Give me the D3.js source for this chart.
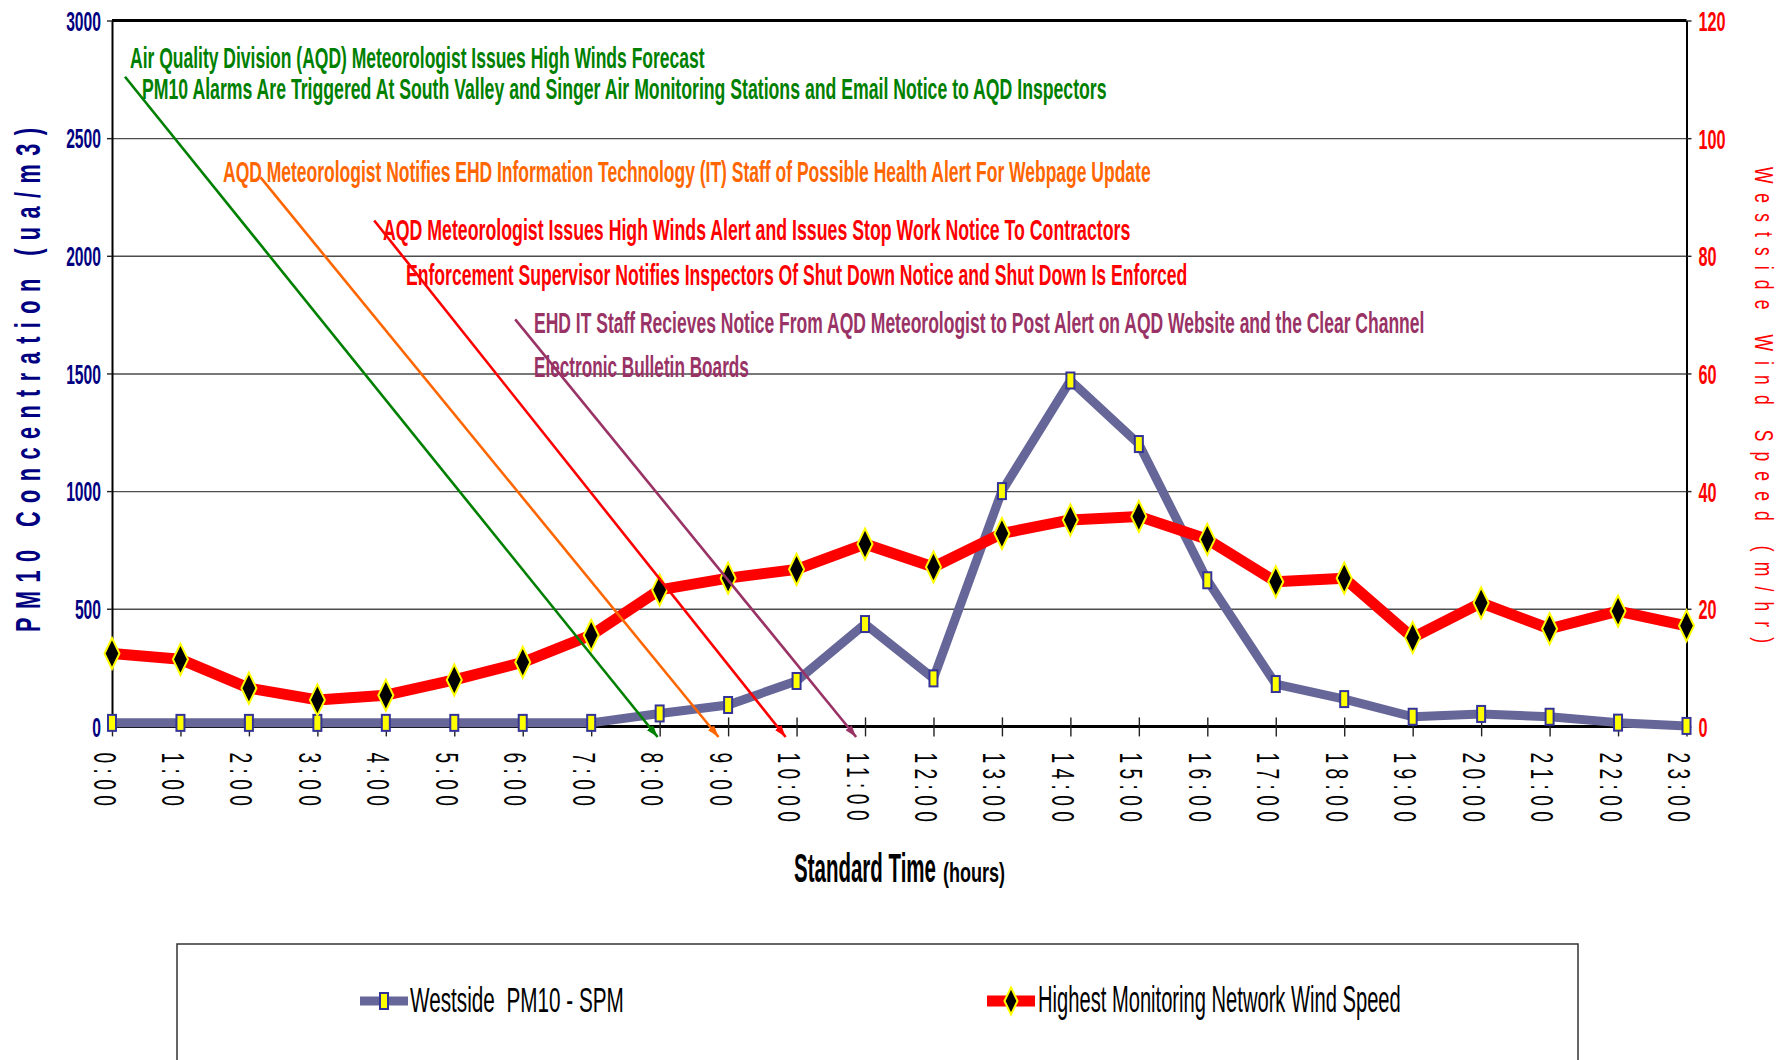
<!DOCTYPE html>
<html>
<head>
<meta charset="utf-8">
<script src="https://cdn.jsdelivr.net/npm/d3@7"></script>
<style>
  body { margin: 0; background: #fff; }
  svg { display: block; font-family: "Liberation Sans", Arial, sans-serif; }
  text { white-space: pre; }
</style>
</head>
<body>
<div id="chart"></div>
<script>
// PM10 (left axis) versus wind speed (right axis), hourly

var hourLabels = ["0:00", "1:00", "2:00", "3:00", "4:00", "5:00", "6:00", "7:00", "8:00", "9:00", "10:00", "11:00",
  "12:00", "13:00", "14:00", "15:00", "16:00", "17:00", "18:00", "19:00", "20:00", "21:00", "22:00", "23:00"];
var pm10 = [15, 15, 15, 15, 15, 15, 15, 15, 55, 91, 193, 435, 204, 1000, 1470, 1200, 621, 180, 116, 41, 53, 41, 16, 2];
var windSpeed = [12.4, 11.4, 6.5, 4.5, 5.3, 7.9, 10.9, 15.5, 23.2, 25.2, 26.7, 31.0, 27.1, 32.8, 35.1, 35.7, 31.8,
  24.6, 25.2, 15.1, 21.0, 16.6, 19.6, 17.1];
var pm10Ticks = [0, 500, 1000, 1500, 2000, 2500, 3000];
var windTicks = [0, 20, 40, 60, 80, 100, 120];
var seriesNames = ["Westside  PM10 - SPM", "Highest Monitoring Network Wind Speed"];

var noteTexts = [
  "Air Quality Division (AQD) Meteorologist Issues High Winds Forecast",
  "PM10 Alarms Are Triggered At South Valley and Singer Air Monitoring Stations and Email Notice to AQD Inspectors",
  "AQD Meteorologist Notifies EHD Information Technology (IT) Staff of Possible Health Alert For Webpage Update",
  "AQD Meteorologist Issues High Winds Alert and Issues Stop Work Notice To Contractors",
  "Enforcement Supervisor Notifies Inspectors Of Shut Down Notice and Shut Down Is Enforced",
  "EHD IT Staff Recieves Notice From AQD Meteorologist to Post Alert on AQD Website and the Clear Channel",
  "Electronic Bulletin Boards"
];
// arrows: start (hour, pm10) -> end (hour, pm10)
var arrowFrom = [[0.19, 2761], [2.17, 2333], [3.83, 2150], [5.89, 1730]];
var arrowTo = [[7.97, -45], [8.86, -45], [9.84, -45], [10.87, -45]];

// layout / styles
var svgWidth = 1788, svgHeight = 1060;
var plot = { left: 112, right: 1686.5, top: 20.5, bottom: 726.4 };
var noteColors = ["#008000", "#008000", "#FF6600", "#FF0000", "#FF0000", "#993366", "#993366"];
var noteLayout = [
  { x: 130, y: 68, w: 575 },
  { x: 142, y: 99, w: 965 },
  { x: 223, y: 182, w: 928 },
  { x: 383, y: 240, w: 748 },
  { x: 406, y: 285, w: 782 },
  { x: 534, y: 333, w: 891 },
  { x: 534, y: 377, w: 215 }
];
var arrowColors = ["#008000", "#FF6600", "#FF0000", "#993366"];

var svg = d3.select("#chart").append("svg")
  .attr("width", svgWidth)
  .attr("height", svgHeight);

// squeeze a text horizontally so it is w pixels wide, left edge at x
function squeeze(sel, xPos, yPos, w) {
  sel.attr("x", 0).attr("y", 0);
  var natural = sel.node().getComputedTextLength();
  sel.attr("transform", `translate(${xPos},${yPos}) scale(${w / natural},1)`);
  return sel;
}

var x = d3.scaleLinear().domain([0, 23]).range([plot.left, plot.right]);
var y = d3.scaleLinear().domain([0, 3000]).range([plot.bottom, plot.top]);
var yWind = d3.scaleLinear().domain([0, 120]).range([plot.bottom, plot.top]);

// gridlines
svg.append("g")
  .attr("transform", `translate(${plot.left},0)`)
  .call(d3.axisLeft(y).tickValues(pm10Ticks.slice(1, -1)).tickSize(-(plot.right - plot.left)).tickFormat(""))
  .call(g => g.select(".domain").remove())
  .call(g => g.selectAll("line").attr("stroke", "#4d4d4d").attr("stroke-width", 1.4));

// bottom axis line (under series)
svg.append("line")
  .attr("x1", plot.left).attr("x2", plot.right)
  .attr("y1", y(0)).attr("y2", y(0))
  .attr("stroke", "#000").attr("stroke-width", 3);

// x axis ticks + labels
var xAxis = svg.append("g")
  .attr("transform", `translate(0,${y(0)})`)
  .call(d3.axisBottom(x).tickValues(d3.range(24)).tickFormat(i => hourLabels[i]).tickSize(10).tickSizeOuter(0))
  .attr("font-size", null).attr("font-family", null);
xAxis.select(".domain").remove();
xAxis.selectAll(".tick line").attr("y1", -9).attr("y2", 10).attr("stroke", "#222").attr("stroke-width", 1.4);
xAxis.selectAll(".tick text")
  .attr("x", null).attr("y", null).attr("dy", null)
  .attr("text-anchor", "start")
  .attr("transform", "translate(-19,26) rotate(90) scale(0.6,1)")
  .attr("letter-spacing", 9)
  .attr("fill", "#000")
  .style("font-size", "32px");

// left axis
var yAxisL = svg.append("g")
  .attr("transform", `translate(${plot.left},0)`)
  .call(d3.axisLeft(y).tickValues(pm10Ticks).tickFormat(d3.format("d")).tickSize(5).tickSizeOuter(0))
  .attr("font-size", null).attr("font-family", null);
yAxisL.select(".domain").attr("stroke", "#000").attr("stroke-width", 2);
yAxisL.selectAll(".tick line").attr("stroke", "#222").attr("stroke-width", 1.4);
yAxisL.selectAll(".tick text")
  .attr("x", -11 / 0.58).attr("dy", "0.36em")
  .attr("transform", "scale(0.58,1)")
  .attr("fill", "#000080")
  .style("font-size", "27px").style("font-weight", "bold");

// right axis
var yAxisR = svg.append("g")
  .attr("transform", `translate(${plot.right},0)`)
  .call(d3.axisRight(yWind).tickValues(windTicks).tickFormat(d3.format("d")).tickSize(5).tickSizeOuter(0))
  .attr("font-size", null).attr("font-family", null);
yAxisR.select(".domain").attr("stroke", "#000").attr("stroke-width", 2);
yAxisR.selectAll(".tick line").attr("stroke", "#222").attr("stroke-width", 1.4);
yAxisR.selectAll(".tick text")
  .attr("x", 12 / 0.58).attr("dy", "0.36em")
  .attr("transform", "scale(0.58,1)")
  .attr("fill", "#FF0000")
  .style("font-size", "28px").style("font-weight", "bold");

// top border
svg.append("line")
  .attr("x1", plot.left).attr("x2", plot.right)
  .attr("y1", plot.top).attr("y2", plot.top)
  .attr("stroke", "#000").attr("stroke-width", 3);

// PM10 series
var pmLine = d3.line().x((d, i) => x(i)).y(d => y(d));
svg.append("path")
  .datum(pm10)
  .attr("d", pmLine)
  .attr("fill", "none")
  .attr("stroke", "#666699")
  .attr("stroke-width", 9)
  .attr("stroke-linejoin", "round");

function squareMarker(sel) {
  sel.append("rect")
    .attr("x", -4).attr("y", -8).attr("width", 8).attr("height", 16)
    .attr("fill", "#FFFF00").attr("stroke", "#333399").attr("stroke-width", 2);
}
function diamondMarker(sel, w, h) {
  sel.append("path")
    .attr("d", `M0,${-h / 2}L${w / 2},0L0,${h / 2}L${-w / 2},0Z`)
    .attr("fill", "#000").attr("stroke", "#FFFF00").attr("stroke-width", 2);
}

svg.append("g").selectAll("g")
  .data(pm10)
  .enter()
  .append("g")
  .attr("transform", (d, i) => `translate(${x(i)},${y(d)})`)
  .call(squareMarker);

// wind series
var windLine = d3.line().x((d, i) => x(i)).y(d => yWind(d));
svg.append("path")
  .datum(windSpeed)
  .attr("d", windLine)
  .attr("fill", "none")
  .attr("stroke", "#FF0000")
  .attr("stroke-width", 11)
  .attr("stroke-linejoin", "round");

svg.append("g").selectAll("g")
  .data(windSpeed)
  .enter()
  .append("g")
  .attr("transform", (d, i) => `translate(${x(i)},${yWind(d)})`)
  .each(function() { diamondMarker(d3.select(this), 15, 31); });

// axis titles
svg.append("text")
  .attr("transform", "translate(40,632) rotate(-90) scale(0.62,1)")
  .attr("textLength", 504 / 0.62)
  .attr("lengthAdjust", "spacing")
  .attr("fill", "#000080")
  .style("font-size", "35px").style("font-weight", "bold")
  .text("PM10 Concentration (ua/m3)");

svg.append("text")
  .attr("transform", "translate(1755,167) rotate(90) scale(0.7,1)")
  .attr("textLength", 476 / 0.7)
  .attr("lengthAdjust", "spacing")
  .attr("fill", "#FF0000")
  .style("font-size", "25px")
  .text("Westside Wind Speed (m/hr)");

svg.append("text")
  .style("font-size", "40px").style("font-weight", "bold")
  .text("Standard Time")
  .call(squeeze, 794, 882, 142);
svg.append("text")
  .style("font-size", "28px").style("font-weight", "bold")
  .text("(hours)")
  .call(squeeze, 943, 882, 62);

// annotations
var defs = svg.append("defs");
arrowColors.forEach(function(c, i) {
  defs.append("marker")
    .attr("id", "arrow" + i)
    .attr("viewBox", "0 0 12 8")
    .attr("refX", 12).attr("refY", 4)
    .attr("markerWidth", 12).attr("markerHeight", 8)
    .attr("markerUnits", "userSpaceOnUse")
    .attr("orient", "auto")
    .append("path")
    .attr("d", "M0,0L12,4L0,8Z")
    .attr("fill", c);
});

svg.append("g").selectAll("line")
  .data(arrowFrom)
  .enter()
  .append("line")
  .attr("x1", d => x(d[0])).attr("y1", d => y(d[1]))
  .attr("x2", (d, i) => x(arrowTo[i][0])).attr("y2", (d, i) => y(arrowTo[i][1]))
  .attr("stroke", (d, i) => arrowColors[i])
  .attr("stroke-width", 2.6)
  .attr("marker-end", (d, i) => `url(#arrow${i})`);

svg.append("g").selectAll("text")
  .data(noteTexts)
  .enter()
  .append("text")
  .attr("fill", (d, i) => noteColors[i])
  .style("font-size", "30px").style("font-weight", "bold")
  .text(d => d)
  .each(function(d, i) {
    squeeze(d3.select(this), noteLayout[i].x, noteLayout[i].y, noteLayout[i].w);
  });

// legend
var legend = svg.append("g");
legend.append("rect")
  .attr("x", 177).attr("y", 944).attr("width", 1401).attr("height", 200)
  .attr("fill", "none").attr("stroke", "#333").attr("stroke-width", 1.5);

var legendItems = [
  { lx: 360, tx: 410, tw: 214 },
  { lx: 987, tx: 1038, tw: 363 }
];
legendItems.forEach(function(it, i) {
  var g = legend.append("g");
  g.append("line")
    .attr("x1", it.lx).attr("x2", it.lx + 48)
    .attr("y1", 1001).attr("y2", 1001)
    .attr("stroke", i === 0 ? "#666699" : "#FF0000")
    .attr("stroke-width", i === 0 ? 9 : 11);
  var m = g.append("g").attr("transform", `translate(${it.lx + 24},1001)`);
  if (i === 0) squareMarker(m); else diamondMarker(m, 13, 27);
  g.append("text")
    .style("font-size", "36px")
    .text(seriesNames[i])
    .call(squeeze, it.tx, 1012, it.tw);
});
</script>
</body>
</html>
